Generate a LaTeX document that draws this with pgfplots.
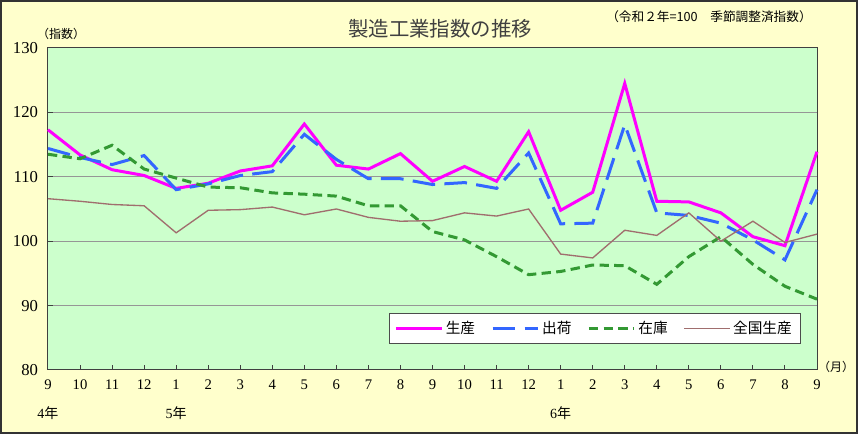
\documentclass[border=0pt]{standalone}
\usepackage{fontspec}
\setmainfont{Liberation Serif}
\newfontfamily\cjk{Noto Sans CJK JP}
\usepackage{pgfplots}
\usepackage{pgfplotstable}
\pgfplotsset{compat=1.18}
\definecolor{bgy}{RGB}{255,255,204}
\definecolor{bgg}{RGB}{204,255,204}
\definecolor{cmag}{RGB}{255,0,255}
\definecolor{cblue}{RGB}{51,102,255}
\definecolor{cgreen}{RGB}{51,153,51}
\definecolor{cbrown}{RGB}{160,110,110}
\definecolor{cgrid}{RGB}{150,150,150}
\pgfplotstableread{
idx sei shu zai zen
0 117.3 114.4 113.5 106.6
1 113.4 113.0 112.8 106.2
2 111.1 111.9 114.9 105.7
3 110.2 113.3 111.2 105.5
4 108.2 108.0 109.8 101.3
5 109.0 108.9 108.4 104.8
6 110.9 110.2 108.3 104.9
7 111.7 110.8 107.5 105.3
8 118.2 116.6 107.3 104.1
9 111.8 112.7 107.0 105.0
10 111.2 109.7 105.5 103.7
11 113.6 109.7 105.5 103.1
12 109.3 108.8 101.5 103.2
13 111.6 109.1 100.2 104.4
14 109.3 108.2 97.6 103.9
15 117.0 113.7 94.8 105.0
16 104.8 102.7 95.3 98.0
17 107.6 102.8 96.3 97.4
18 124.5 118.1 96.2 101.7
19 106.2 104.4 93.3 100.9
20 106.1 104.0 97.6 104.4
21 104.4 102.8 100.7 100.0
22 100.7 100.2 96.4 103.1
23 99.3 97.1 93.0 99.8
24 113.9 108.0 91.0 101.1
}\datatable
\begin{document}
\begin{tikzpicture}[x=0.75pt,y=0.75pt]
\useasboundingbox (0,0) rectangle (858,434);
\fill[bgy] (0,0) rectangle (858,434);
\draw[line width=1.5pt, black!80] (1,1) rectangle (857,433);
\begin{axis}[
 at={(36pt,48pt)}, anchor=south west,
 width=576.75pt, height=241.5pt, scale only axis,
 xmin=0, xmax=24, ymin=80, ymax=130,
 xtick={0,...,24},
 xticklabels={9,10,11,12,1,2,3,4,5,6,7,8,9,10,11,12,1,2,3,4,5,6,7,8,9},
 ytick={80,90,...,130},
 ymajorgrids, grid style={cgrid, line width=0.75pt},
 axis background/.style={fill=bgg},
 axis line style={black!75, line width=0.75pt},
 tick align=inside, xtick pos=bottom, ytick pos=left,
 major tick length=4pt,
 tick style={black!75, line width=0.75pt},
 /pgf/number format/assume math mode=true,
 yticklabel style={font=\fontsize{12.5}{14}\selectfont, xshift=-4pt},
 xticklabel style={font=\fontsize{11}{13}\selectfont, yshift=-4pt},
 clip=false,
 legend columns=4,
 legend style={at={(0.978,0.081)}, anchor=south east, draw=black!70, fill=white,
   font=\cjk\fontsize{11}{13}\selectfont, inner xsep=4pt, inner ysep=4pt,
   /tikz/every even column/.append style={column sep=10pt}},
 legend image code/.code={\draw[#1] (0pt,0pt) -- (34pt,0pt);},
]
\addplot[cmag, line width=2.25pt] table[x=idx, y=sei] {\datatable};
\addlegendentry{生産}
\addplot[cblue, line width=2.25pt, dash pattern=on 17pt off 7pt] table[x=idx, y=shu] {\datatable};
\addlegendentry{出荷}
\addplot[cgreen, line width=2.25pt, dash pattern=on 7pt off 4pt] table[x=idx, y=zai] {\datatable};
\addlegendentry{在庫}
\addplot[cbrown, line width=1pt] table[x=idx, y=zen] {\datatable};
\addlegendentry{全国生産}
\node[font=\fontsize{10.5}{12}\selectfont] at (axis cs:0,73.3) {4{\cjk 年}};
\node[font=\fontsize{10.5}{12}\selectfont] at (axis cs:4,73.3) {5{\cjk 年}};
\node[font=\fontsize{10.5}{12}\selectfont] at (axis cs:16,73.3) {6{\cjk 年}};
\end{axis}
\node[font=\cjk\fontsize{15.3}{17}\selectfont, text=black!75] at (440,405.5) {製造工業指数の推移};
\node[font=\cjk\fontsize{9.5}{11}\selectfont] at (709,417) {（令和２年=100　季節調整済指数）};
\node[font=\cjk\fontsize{9}{11}\selectfont] at (61,400) {（指数）};
\node[font=\cjk\fontsize{9}{11}\selectfont] at (836,67) {（月）};
\end{tikzpicture}
\end{document}
